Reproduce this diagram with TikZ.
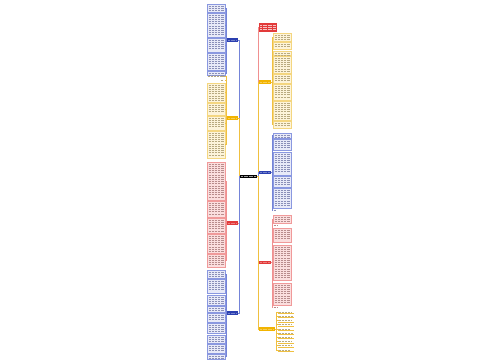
\documentclass[tikz,border=0pt]{standalone}
\usetikzlibrary{calc}
\definecolor{bB}{HTML}{8A98E0}\definecolor{fB}{HTML}{E8EAF8}\definecolor{nB}{HTML}{2B3FB0}\definecolor{tB}{HTML}{8A8FB8}\definecolor{cB}{HTML}{7484D8}
\definecolor{bY}{HTML}{F4D680}\definecolor{fY}{HTML}{FDF4DA}\definecolor{nY}{HTML}{F2B400}\definecolor{tY}{HTML}{B8AA80}\definecolor{cY}{HTML}{F0C040}
\definecolor{bR}{HTML}{F09A9A}\definecolor{fR}{HTML}{FBDEDE}\definecolor{nR}{HTML}{E23A3A}\definecolor{tR}{HTML}{B88C8C}\definecolor{cR}{HTML}{F09090}
\tikzset{
 boxb/.style={draw=bB,fill=fB,line width=0.4pt,inner sep=0pt,outer sep=0pt},
 boxy/.style={draw=bY,fill=fY,line width=0.4pt,inner sep=0pt,outer sep=0pt},
 boxr/.style={draw=bR,fill=fR,line width=0.4pt,inner sep=0pt,outer sep=0pt},
 tlb/.style={draw=tB,line width=0.75pt,dash pattern=on 2.6pt off 0.5pt},
 tly/.style={draw=tY,line width=0.75pt,dash pattern=on 2.6pt off 0.5pt},
 tlr/.style={draw=tR,line width=0.75pt,dash pattern=on 2.6pt off 0.5pt},
 brb/.style={fill=nB,inner sep=0pt,outer sep=0pt,minimum height=3.4pt},
 bry/.style={fill=nY,inner sep=0pt,outer sep=0pt,minimum height=3.4pt},
 brr/.style={fill=nR,inner sep=0pt,outer sep=0pt,minimum height=3.4pt},
 conb/.style={draw=cB,line width=0.6pt},
 cony/.style={draw=cY,line width=0.6pt},
 conr/.style={draw=cR,line width=0.6pt},
 wl/.style={draw=white,draw opacity=0.35,line width=0.3pt,dash pattern=on 2pt off 0.5pt},
}
\newcommand\tbx[6]{%
  \node[box#6, minimum width={(#4-#2)*1pt}, minimum height={(#5-#3)*1pt}] (#1) at ({(#2+#4)/2},{(#3+#5)/2}) {};
  \pgfmathsetmacro\ya{#3+2}\pgfmathsetmacro\yb{#3+4.2}\pgfmathsetmacro\yc{#5-1.4}%
  \foreach \yy in {\ya,\yb,...,\yc} \draw[tl#6] ({#2+1.5},\yy) -- ({#4-1.5},\yy);
}
\newcommand\brn[5]{% name x1 x2 y scheme
  \node[br#5, minimum width={(#3-#2)*1pt}] (#1) at ({(#2+#3)/2},#4) {};
  \draw[wl] ({#2+1},#4) -- ({#3-1},#4);
}
\begin{document}
\begin{tikzpicture}[x=1pt,y=-1pt]
\fill[white] (0,0) rectangle (500,360);
\useasboundingbox (0,0) rectangle (500,360);

% root
\node[fill=black,inner sep=0pt,outer sep=0pt,minimum width=17pt,minimum height=3.6pt] (root) at (248.5,176.5) {};
\draw[wl,draw opacity=0.6] (241,176.5) -- (256,176.5);

% top red note
\node[fill=nR,inner sep=0pt,outer sep=0pt,minimum width=18pt,minimum height=9pt] (note) at (268,27.5) {};
\foreach \yy in {25,27.3,29.6} \draw[wl,draw opacity=0.7,line width=0.5pt] (260,\yy) -- (276,\yy);

% branch nodes
\brn{LB1}{227}{238}{40}{b}
\brn{LY}{227}{238}{118}{y}
\brn{LR}{227}{238}{223}{r}
\brn{LB2}{227}{238}{313}{b}
\brn{RY1}{259}{271}{82}{y}
\brn{RB}{259}{271}{172.5}{b}
\brn{RR}{259}{271}{262.5}{r}
\brn{RY2}{259}{275}{329}{y}

% main connectors
\draw[conr] (root.east) -- ++(0.8,0) |- (note.west);
\draw[cony] (root.east) -- ++(0.8,0) |- (RY1.west);
\draw[conb] (root.east) -- ++(0.8,0) |- (RB.west);
\draw[conr] (root.east) -- ++(0.8,0) |- (RR.west);
\draw[cony] (root.east) -- ++(0.8,0) |- (RY2.west);
\draw[conb] (root.west) -- ++(-0.8,0) |- (LB1.east);
\draw[cony] (root.west) -- ++(-0.8,0) |- (LY.east);
\draw[conr] (root.west) -- ++(-0.8,0) |- (LR.east);
\draw[conb] (root.west) -- ++(-0.8,0) |- (LB2.east);

% left blue 1
\tbx{a1}{207}{4}{225}{12}{b}
\tbx{a2}{207}{13}{225}{37}{b}
\tbx{a3}{207}{38}{225}{52}{b}
\tbx{a4}{207}{53}{225}{70}{b}
\tbx{a5}{207}{71}{225}{75}{b}
\foreach \n in {a1,a2,a3,a4,a5} \draw[conb] (LB1.west) -- ++(-1,0) |- (\n.east);

% left yellow
\coordinate (y0) at (225,76.5);
\coordinate (y00) at (225,80);
\draw[tly] (207.5,76.5) -- (224.5,76.5);
\draw[tly] (221,80) -- (223,80);
\tbx{b1}{207}{83}{225}{102}{y}
\tbx{b2}{207}{103}{225}{115}{y}
\tbx{b3}{207}{116}{225}{130}{y}
\tbx{b4}{207}{131}{225}{158}{y}
\foreach \n in {y0,y00,b1,b2,b3,b4} \draw[cony] (LY.west) -- ++(-1,0) |- (\n);

% left red
\tbx{c1}{207}{162}{225}{200}{r}
\tbx{c2}{207}{201}{225}{217}{r}
\tbx{c3}{207}{218}{225}{233}{r}
\tbx{c4}{207}{234}{225}{253}{r}
\tbx{c5}{207}{254}{225}{267}{r}
\foreach \n in {c1,c2,c3,c4,c5} \draw[conr] (LR.west) -- ++(-1,0) |- (\n.east);

% left blue 2
\tbx{d1}{207}{270}{225}{278}{b}
\tbx{d2}{207}{279}{225}{293}{b}
\tbx{d3}{207}{295}{225}{305}{b}
\tbx{d4}{207}{306}{225}{312}{b}
\tbx{d5}{207}{313}{225}{322}{b}
\tbx{d6}{207}{323}{225}{333}{b}
\tbx{d7}{207}{335}{225}{343}{b}
\tbx{d8}{207}{344}{225}{353}{b}
\tbx{d9}{207}{354}{225}{359}{b}
\foreach \n in {d1,d2,d3,d4,d5,d6,d7,d8,d9} \draw[conb] (LB2.west) -- ++(-1,0) |- (\n.east);

% right yellow 1
\tbx{e1}{273}{33}{291}{41}{y}
\tbx{e2}{273}{42}{291}{49}{y}
\tbx{e3}{273}{51}{291}{55}{y}
\tbx{e4}{273}{56}{291}{73}{y}
\tbx{e5}{273}{74}{291}{83}{y}
\tbx{e6}{273}{84}{291}{100}{y}
\tbx{e7}{273}{101}{291}{120}{y}
\tbx{e8}{273}{121}{291}{128}{y}
\foreach \n in {e1,e2,e3,e4,e5,e6,e7,e8} \draw[cony] (RY1.east) -- ++(1,0) |- (\n.west);

% right blue
\tbx{f1}{273}{133}{291}{138}{b}
\tbx{f2}{273}{139}{291}{150}{b}
\tbx{f3}{273}{152}{291}{175}{b}
\tbx{f4}{273}{176}{291}{187}{b}
\tbx{f5}{273}{188}{291}{208}{b}
\coordinate (f6) at (273,210);
\draw[tlb] (273.5,210) -- (276,210);
\foreach \n in {f1,f2,f3,f4,f5} \draw[conb] (RB.east) -- ++(1,0) |- (\n.west);
\draw[conb] (RB.east) -- ++(1,0) |- (f6);

% right red
\tbx{g1}{273}{215}{291}{223}{r}
\coordinate (g2) at (273,225);
\draw[tlr] (273.5,225) -- (278,225);
\tbx{g3}{273}{228}{291}{242}{r}
\tbx{g4}{273}{245}{291}{280}{r}
\tbx{g5}{273}{283}{291}{305}{r}
\coordinate (g6) at (273,307.5);
\draw[tlr] (273.5,307.5) -- (277,307.5);
\foreach \n in {g1,g3,g4,g5} \draw[conr] (RR.east) -- ++(1,0) |- (\n.west);
\foreach \n in {g2,g6} \draw[conr] (RR.east) -- ++(1,0) |- (\n);

% right yellow 2 list
\foreach \i/\w [count=\k] in {312/292,316.2/293,320.4/291,324.6/292,328.8/290,333/293,337.2/292,341.4/291,345.6/292,349.8/290} {
  \node[inner sep=0pt,outer sep=0pt,minimum width=15pt,minimum height=2pt] (h\k) at (286,\i) {};
  \draw[tly,line width=0.6pt] (278.5,\i) -- (\w,\i);
  \draw[cony,line width=0.25pt] (278,\i+1.4) -- (294,\i+1.4);
  \draw[cony] (RY2.east) -- ++(1.5,0) |- (h\k.west);
}
\end{tikzpicture}
\end{document}
